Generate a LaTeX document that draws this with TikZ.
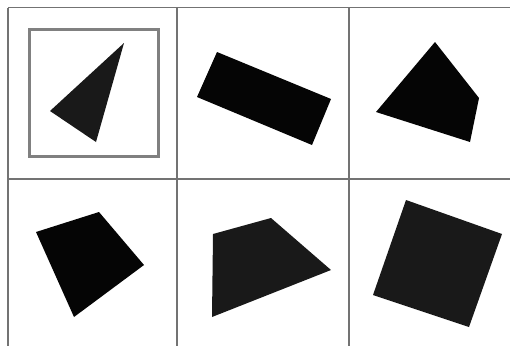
\documentclass[tikz,border=0pt]{standalone}
\begin{document}
\begin{tikzpicture}[x=1pt,y=-1pt,
  gridline/.style={draw=black!55,line width=1.5pt},
  shapeA/.style={fill=black!90},
  shapeB/.style={fill=black!98}]
\useasboundingbox[fill=white] (0,0) rectangle (510,346);
% grid
\draw[gridline] (8,7.5) -- (510,7.5);
\draw[gridline] (8,179) -- (510,179);
\draw[gridline] (8,7.5) -- (8,346);
\draw[gridline] (177,7.5) -- (177,346);
\draw[gridline] (349,7.5) -- (349,346);
% highlight frame
\draw[draw=black!50,line width=3pt] (29.5,29.5) rectangle (158.5,156);
% shapes
\fill[shapeA] (124,43) -- (50,111) -- (96,142) -- cycle;
\fill[shapeB] (217,52) -- (331,99) -- (312,145) -- (197,97) -- cycle;
\fill[shapeB] (435,42) -- (479,98) -- (470,142) -- (376,112) -- cycle;
\fill[shapeB] (36,232) -- (99,212) -- (144,265) -- (74,317) -- cycle;
\fill[shapeA] (213,234) -- (271,218) -- (331,270) -- (212,317) -- cycle;
\fill[shapeA] (406,200) -- (502,234) -- (469,327) -- (373,295) -- cycle;
\end{tikzpicture}
\end{document}
